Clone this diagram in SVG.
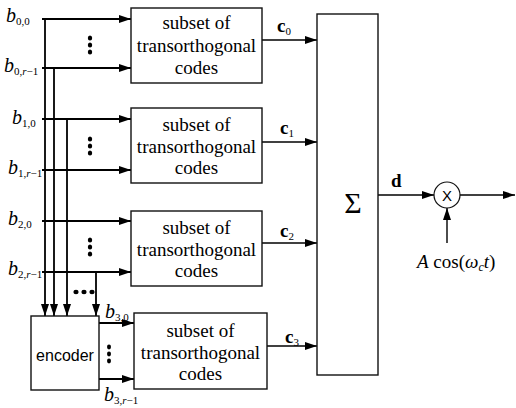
<svg xmlns="http://www.w3.org/2000/svg" width="516" height="408" viewBox="0 0 516 408">
<style>
.box{fill:#fff;stroke:#111;stroke-width:1.4}
.ln{fill:none;stroke:#000;stroke-width:1.8}
.lnt{fill:none;stroke:#000;stroke-width:1.4}
.bt{font-family:"Liberation Serif","Times New Roman",serif;font-size:19px;fill:#000;text-anchor:middle}
.lab{font-family:"Liberation Serif","Times New Roman",serif;font-size:20px;font-style:italic;fill:#000}
.sub{font-size:11px;font-style:normal}
.si{font-size:11px;font-style:italic}
.cl{font-family:"Liberation Serif","Times New Roman",serif;font-size:19px;font-weight:bold;fill:#000}
.dot{fill:#000}
</style>
<defs>
<marker id="ah" viewBox="0 0 12 8" refX="12" refY="4" markerWidth="12" markerHeight="8" markerUnits="userSpaceOnUse" orient="auto">
<path d="M0,0 L12,4 L0,8 Z" fill="#000"/>
</marker>
</defs>

<g id="connectors">
<line class="ln" x1="42" y1="19" x2="131" y2="19" marker-end="url(#ah)"/>
<line class="ln" x1="42" y1="68" x2="131" y2="68" marker-end="url(#ah)"/>
<line class="ln" x1="42" y1="119" x2="131" y2="119" marker-end="url(#ah)"/>
<line class="ln" x1="42" y1="170" x2="131" y2="170" marker-end="url(#ah)"/>
<line class="ln" x1="42" y1="221" x2="131" y2="221" marker-end="url(#ah)"/>
<line class="ln" x1="42" y1="272" x2="131" y2="272" marker-end="url(#ah)"/>
<line class="ln" x1="45" y1="19" x2="45" y2="316" marker-end="url(#ah)"/>
<line class="ln" x1="54" y1="68" x2="54" y2="316" marker-end="url(#ah)"/>
<line class="ln" x1="67" y1="119" x2="67" y2="316" marker-end="url(#ah)"/>
<line class="ln" x1="96" y1="272" x2="96" y2="316" marker-end="url(#ah)"/>
<line class="ln" x1="99" y1="323" x2="134" y2="323" marker-end="url(#ah)"/>
<line class="ln" x1="99" y1="379" x2="134" y2="379" marker-end="url(#ah)"/>
<line class="lnt" x1="262" y1="40" x2="317" y2="40" marker-end="url(#ah)"/>
<line class="lnt" x1="262" y1="142" x2="317" y2="142" marker-end="url(#ah)"/>
<line class="lnt" x1="262" y1="243" x2="317" y2="243" marker-end="url(#ah)"/>
<line class="lnt" x1="267" y1="346" x2="317" y2="346" marker-end="url(#ah)"/>
<line class="lnt" x1="378" y1="195" x2="434" y2="195" marker-end="url(#ah)"/>
<line class="lnt" x1="460" y1="195" x2="515" y2="195" marker-end="url(#ah)"/>
<line class="lnt" x1="447" y1="243" x2="447" y2="208" marker-end="url(#ah)"/>
</g>

<g id="dots">
<ellipse class="dot" cx="90" cy="38" rx="2.2" ry="2.6"/>
<ellipse class="dot" cx="90" cy="45" rx="2.2" ry="2.6"/>
<ellipse class="dot" cx="90" cy="52" rx="2.2" ry="2.6"/>
<ellipse class="dot" cx="90" cy="139" rx="2.2" ry="2.6"/>
<ellipse class="dot" cx="90" cy="146" rx="2.2" ry="2.6"/>
<ellipse class="dot" cx="90" cy="153" rx="2.2" ry="2.6"/>
<ellipse class="dot" cx="90" cy="240" rx="2.2" ry="2.6"/>
<ellipse class="dot" cx="90" cy="247" rx="2.2" ry="2.6"/>
<ellipse class="dot" cx="90" cy="254" rx="2.2" ry="2.6"/>
<ellipse class="dot" cx="109" cy="347" rx="2" ry="2.4"/>
<ellipse class="dot" cx="109" cy="354" rx="2" ry="2.4"/>
<ellipse class="dot" cx="109" cy="361" rx="2" ry="2.4"/>
<ellipse class="dot" cx="76" cy="292" rx="2.6" ry="2.2"/>
<ellipse class="dot" cx="84" cy="292" rx="2.6" ry="2.2"/>
<ellipse class="dot" cx="92" cy="292" rx="2.6" ry="2.2"/>
</g>

<g id="inputs">
<text class="lab" x="6" y="22">b<tspan class="sub" dy="3">0,0</tspan></text>
<text class="lab" x="4" y="72">b<tspan class="sub" dy="3">0,</tspan><tspan class="si">r</tspan><tspan class="sub">−1</tspan></text>
<text class="lab" x="12" y="124">b<tspan class="sub" dy="3">1,0</tspan></text>
<text class="lab" x="8" y="174">b<tspan class="sub" dy="3">1,</tspan><tspan class="si">r</tspan><tspan class="sub">−1</tspan></text>
<text class="lab" x="8" y="225">b<tspan class="sub" dy="3">2,0</tspan></text>
<text class="lab" x="8" y="275">b<tspan class="sub" dy="3">2,</tspan><tspan class="si">r</tspan><tspan class="sub">−1</tspan></text>
<text class="lab" x="105" y="318">b<tspan class="sub" dy="3">3,0</tspan></text>
<text class="lab" x="104" y="401">b<tspan class="sub" dy="3">3,</tspan><tspan class="si">r</tspan><tspan class="sub">−1</tspan></text>
</g>

<g id="code0">
<rect class="box" x="131" y="8" width="131" height="75"/>
<text class="bt" x="196.5" y="29">subset of</text>
<text class="bt" x="196.5" y="52">transorthogonal</text>
<text class="bt" x="196.5" y="74">codes</text>
</g>
<g id="code1">
<rect class="box" x="131" y="108" width="131" height="75"/>
<text class="bt" x="196.5" y="131">subset of</text>
<text class="bt" x="196.5" y="153">transorthogonal</text>
<text class="bt" x="196.5" y="174">codes</text>
</g>
<g id="code2">
<rect class="box" x="131" y="211" width="131" height="75"/>
<text class="bt" x="196.5" y="234">subset of</text>
<text class="bt" x="196.5" y="256">transorthogonal</text>
<text class="bt" x="196.5" y="277">codes</text>
</g>
<g id="code3">
<rect class="box" x="134" y="313" width="133" height="76"/>
<text class="bt" x="200.5" y="337">subset of</text>
<text class="bt" x="200.5" y="359">transorthogonal</text>
<text class="bt" x="200.5" y="380">codes</text>
</g>

<g id="encoder">
<rect class="box" x="31" y="316" width="68" height="74"/>
<text x="65" y="361" font-family="'Liberation Sans',Arial,sans-serif" font-size="16" text-anchor="middle" fill="#000">encoder</text>
</g>

<g id="labels-c">
<text class="cl" x="277" y="32">c<tspan class="sub" font-weight="normal" dy="3">0</tspan></text>
<text class="cl" x="280" y="134">c<tspan class="sub" font-weight="normal" dy="3">1</tspan></text>
<text class="cl" x="280" y="237">c<tspan class="sub" font-weight="normal" dy="3">2</tspan></text>
<text class="cl" x="285" y="343">c<tspan class="sub" font-weight="normal" dy="3">3</tspan></text>
<text class="cl" x="391" y="187">d</text>
</g>

<g id="sum">
<rect class="box" x="317" y="14" width="61" height="361"/>
<text x="353" y="213" font-family="'Liberation Serif','Times New Roman',serif" font-size="30" text-anchor="middle" fill="#000">Σ</text>
</g>

<g id="mixer">
<circle cx="447" cy="195" r="13" fill="#fff" stroke="#111" stroke-width="1.2"/>
<text x="447" y="201" font-family="'Liberation Sans',Arial,sans-serif" font-size="15" text-anchor="middle" fill="#000">X</text>
</g>

<g id="carrier">
<text x="417" y="268" font-family="'Liberation Serif','Times New Roman',serif" font-size="19" fill="#000"><tspan font-style="italic">A</tspan> cos(<tspan font-style="italic">ω</tspan><tspan font-style="italic" font-size="12" dy="3">c</tspan><tspan font-style="italic" dy="-3">t</tspan>)</text>
</g>
</svg>
